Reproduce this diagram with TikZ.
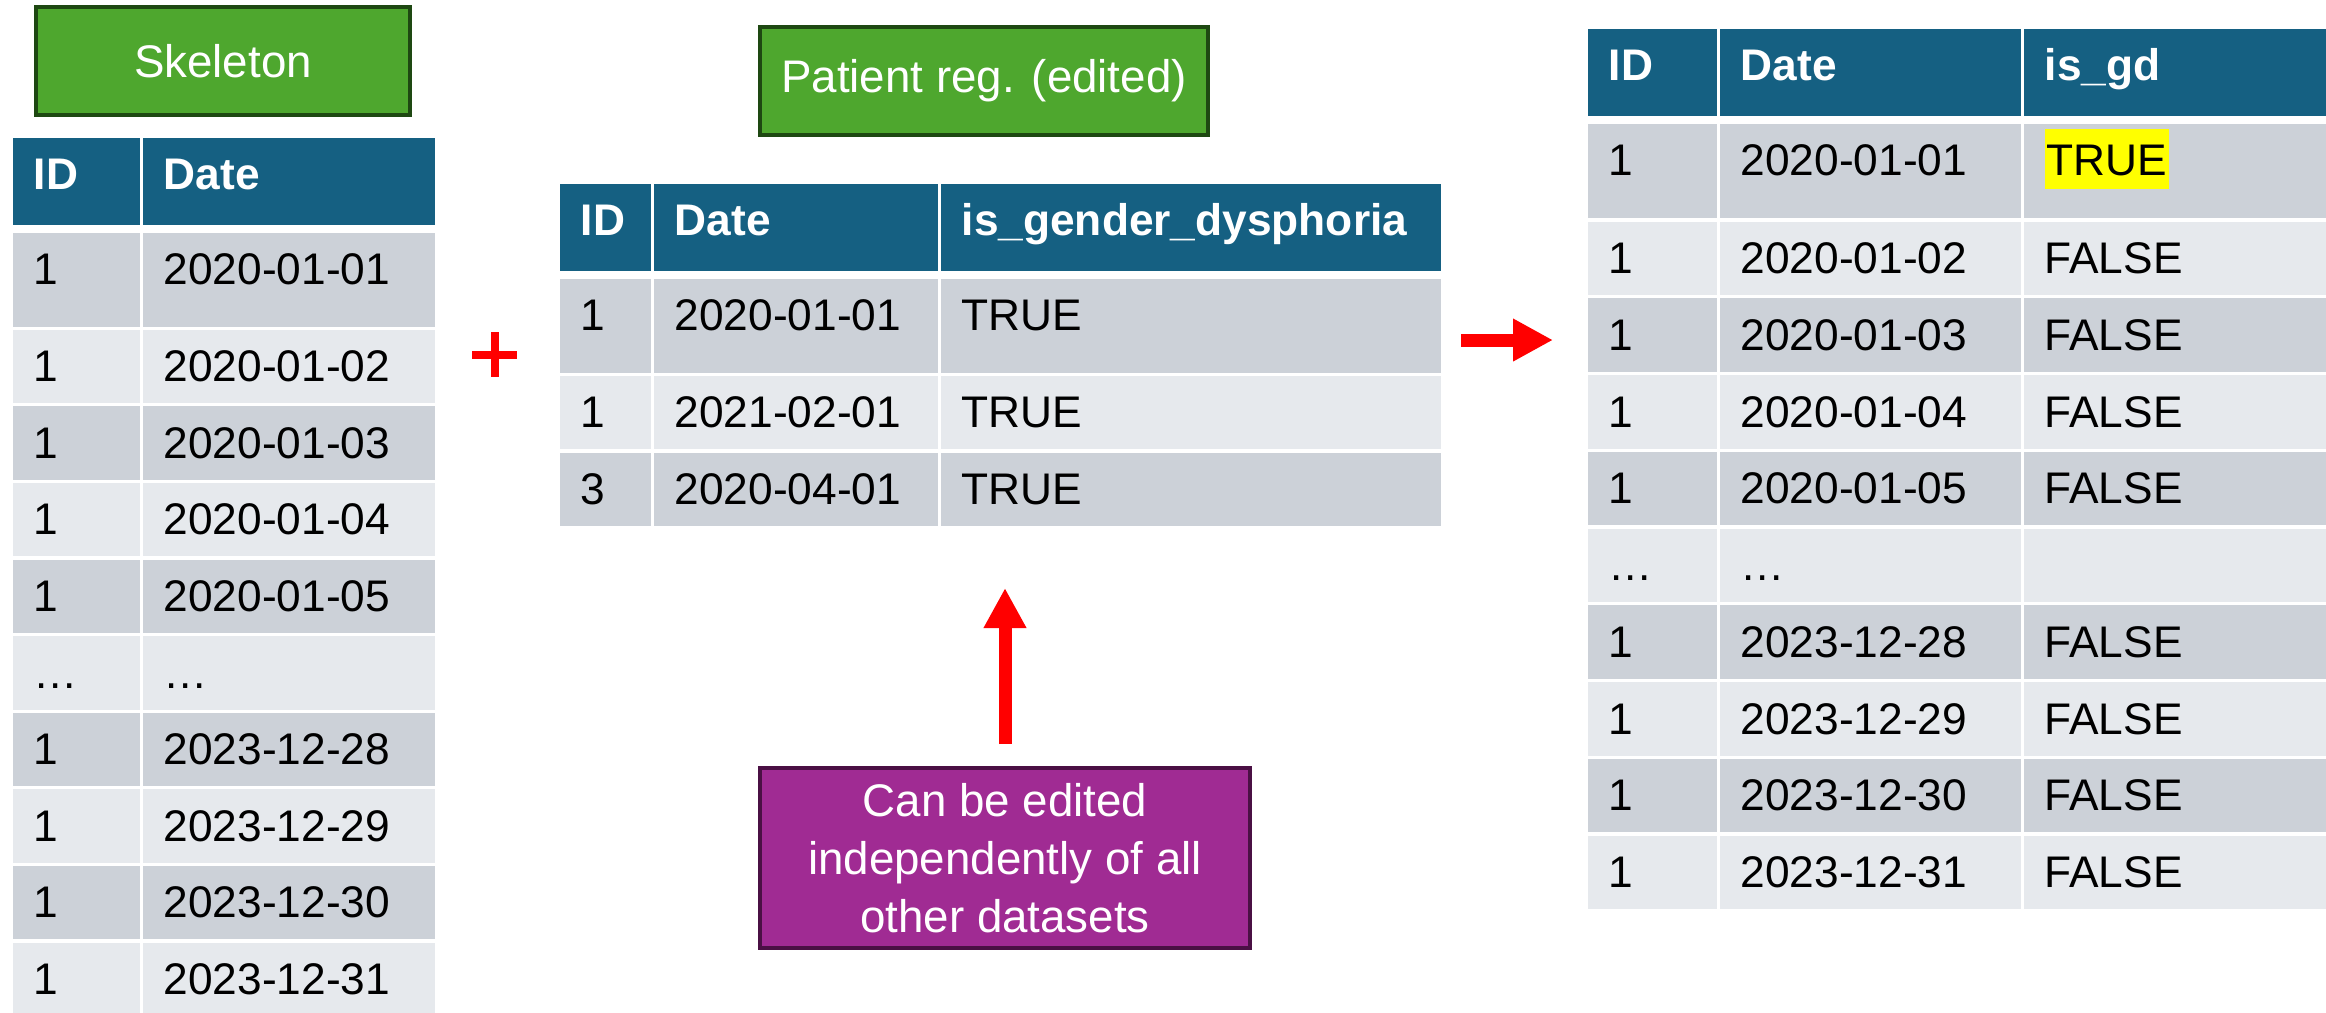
\documentclass[tikz,border=0pt]{standalone}
\usepackage{fontspec}
\setmainfont{Liberation Sans}
\usetikzlibrary{arrows.meta}
\definecolor{headblue}{RGB}{21,96,130}
\definecolor{rowdark}{RGB}{204,209,216}
\definecolor{rowlight}{RGB}{230,233,237}
\definecolor{leaf}{RGB}{78,167,46}
\definecolor{leafline}{RGB}{30,72,18}
\definecolor{plum}{RGB}{160,43,147}
\definecolor{plumline}{RGB}{74,16,68}
\definecolor{hilite}{RGB}{255,255,0}
\setlength{\fboxsep}{0.02cm}

\begin{document}
\begin{tikzpicture}[
  cell/.style={anchor=north west, inner xsep=0.21cm, inner ysep=0pt, text height=0.52cm, align=left, font=\fontsize{12.6}{15}\selectfont},
  head/.style={cell, fill=headblue, text=white, font=\fontsize{12.6}{15}\selectfont\bfseries, text depth=0.35cm},
  tall/.style={cell, fill=rowdark, text depth=0.42cm},
  body/.style={cell, text depth=0.215cm},
  tag/.style={draw=leafline, fill=leaf, line width=0.04cm, text=white, font=\fontsize{13}{16.5}\selectfont, minimum height=1.08cm, inner sep=0pt},
  note/.style={tag, draw=plumline, fill=plum, align=center, minimum height=1.80cm},
  bigarrow/.style={draw=red, line width=0.13cm, -{Triangle[length=0.40cm, width=0.40cm]}}
]
\useasboundingbox (0,0) rectangle (23.26,-10.12);

\node[tag, minimum width=3.74cm] (skel) at (2.23,-0.61) {Skeleton};
\node[head, text width=0.85cm] (sk-h-1) at (0.12,-1.37) {ID};
\node[head, text width=2.50cm] (sk-h-2) at (1.42,-1.37) {Date};
\node[tall, text width=0.85cm] (sk-1-1) at (0.12,-2.32) {1};
\node[tall, text width=2.50cm] (sk-1-2) at (1.42,-2.32) {2020-01-01};
\foreach \id/\day [count=\k from 2] in {1/2020-01-02,1/2020-01-03,1/2020-01-04,1/2020-01-05,…/…,1/2023-12-28,1/2023-12-29,1/2023-12-30,1/2023-12-31} {
  \pgfmathsetmacro{\rowy}{-3.29-(\k-2)*0.766}
  \ifodd\k\relax \def\shade{rowdark}\else \def\shade{rowlight}\fi
  \node[body, fill=\shade, text width=0.85cm] (sk-\k-1) at (0.12,\rowy) {\id};
  \node[body, fill=\shade, text width=2.50cm] (sk-\k-2) at (1.42,\rowy) {\day};
}

\draw[red, line width=0.08cm] (4.72,-3.545) -- (5.17,-3.545) (4.945,-3.32) -- (4.945,-3.77);

\node[tag, minimum width=4.48cm] (patreg) at (9.84,-0.81) {Patient reg. (edited)};
\node[head, text width=0.49cm] (pr-h-1) at (5.59,-1.83) {ID};
\node[head, text width=2.42cm] (pr-h-2) at (6.53,-1.83) {Date};
\node[head, text width=4.58cm] (pr-h-3) at (9.40,-1.83) {is\_gender\_dysphoria};
\node[tall, text width=0.49cm] (pr-1-1) at (5.59,-2.78) {1};
\node[tall, text width=2.42cm] (pr-1-2) at (6.53,-2.78) {2020-01-01};
\node[tall, text width=4.58cm] (pr-1-3) at (9.40,-2.78) {TRUE};
\node[body, fill=rowlight, text width=0.49cm] (pr-2-1) at (5.59,-3.75) {1};
\node[body, fill=rowlight, text width=2.42cm] (pr-2-2) at (6.53,-3.75) {2021-02-01};
\node[body, fill=rowlight, text width=4.58cm] (pr-2-3) at (9.40,-3.75) {TRUE};
\node[body, fill=rowdark, text width=0.49cm] (pr-3-1) at (5.59,-4.52) {3};
\node[body, fill=rowdark, text width=2.42cm] (pr-3-2) at (6.53,-4.52) {2020-04-01};
\node[body, fill=rowdark, text width=4.58cm] (pr-3-3) at (9.40,-4.52) {TRUE};

\node[note, minimum width=4.90cm] (edit) at (10.05,-8.58) {Can be edited\\independently of all\\other datasets};
\coordinate (edithead) at (10.05,-5.88);
\draw[bigarrow, shorten <=0.22cm] (edit.north) -- (edithead);

\coordinate (mergetail) at (14.61,-3.40);
\coordinate (mergehead) at (15.53,-3.40);
\draw[bigarrow] (mergetail) -- (mergehead);

\node[head, text width=0.87cm] (out-h-1) at (15.87,-0.28) {ID};
\node[head, text width=2.59cm] (out-h-2) at (17.19,-0.28) {Date};
\node[head, text width=2.61cm] (out-h-3) at (20.23,-0.28) {is\_gd};
\node[tall, text width=0.87cm] (out-1-1) at (15.87,-1.23) {1};
\node[tall, text width=2.59cm] (out-1-2) at (17.19,-1.23) {2020-01-01};
\node[tall, text width=2.61cm] (out-1-3) at (20.23,-1.23) {\colorbox{hilite}{\rule[-0.11cm]{0pt}{0.56cm}TRUE}};
\foreach \id/\day/\flag [count=\k from 2] in {1/2020-01-02/FALSE,1/2020-01-03/FALSE,1/2020-01-04/FALSE,1/2020-01-05/FALSE,…/…/,1/2023-12-28/FALSE,1/2023-12-29/FALSE,1/2023-12-30/FALSE,1/2023-12-31/FALSE} {
  \pgfmathsetmacro{\rowy}{-2.21-(\k-2)*0.7675}
  \ifodd\k\relax \def\shade{rowdark}\else \def\shade{rowlight}\fi
  \node[body, fill=\shade, text width=0.87cm] (out-\k-1) at (15.87,\rowy) {\id};
  \node[body, fill=\shade, text width=2.59cm] (out-\k-2) at (17.19,\rowy) {\day};
  \node[body, fill=\shade, text width=2.61cm] (out-\k-3) at (20.23,\rowy) {\flag};
}
\end{tikzpicture}
\end{document}
